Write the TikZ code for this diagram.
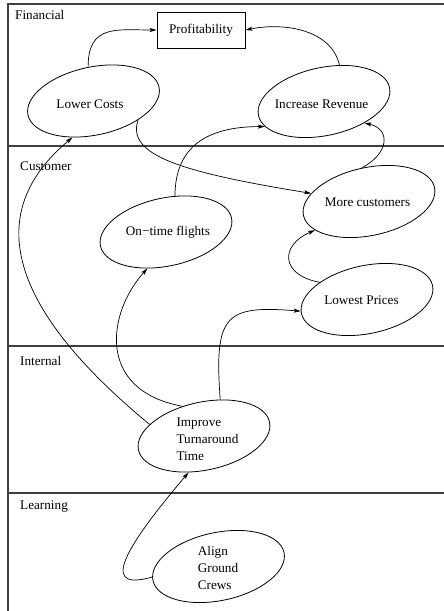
\documentclass[tikz,border=0pt]{standalone}
\usepackage{fontspec}
\setmainfont{Liberation Serif}
\usetikzlibrary{shapes.geometric,arrows.meta}
\begin{document}
\begin{tikzpicture}[x=1pt,y=-1pt,
  lane/.style={draw=black!75, line width=1.1pt},
  goal/.style={ellipse, draw, line width=0.8pt, rotate=12, minimum width=134pt, minimum height=68pt, inner sep=0pt},
  lbl/.style={font=\fontsize{13.2}{17}\selectfont, inner sep=0pt},
  conn/.style={line width=0.7pt, -{Stealth[length=7pt,width=4pt,inset=1.5pt]}},
  boxnode/.style={draw, line width=0.8pt, minimum width=88pt, minimum height=36pt, inner sep=0pt, font=\fontsize{13.2}{17}\selectfont}
]
\useasboundingbox (0,0) rectangle (444,611);
% lanes
\coordinate (tr) at (444,4);
\coordinate (tl) at (8,4);
\coordinate (bl) at (8,611);
\coordinate (c1l) at (8,146);  \coordinate (c1r) at (444,146);
\coordinate (c2l) at (8,346);  \coordinate (c2r) at (444,346);
\coordinate (c3l) at (8,493);  \coordinate (c3r) at (444,493);
\draw[lane] (tr) -- (tl) -- (bl);
\draw[lane] (c1l) -- (c1r);
\draw[lane] (c2l) -- (c2r);
\draw[lane] (c3l) -- (c3r);
\node[lbl, anchor=base west] (fin) at (15,19) {Financial};
\node[lbl, anchor=base west] (cus) at (20,170) {Customer};
\node[lbl, anchor=base west] (int) at (20,365) {Internal};
\node[lbl, anchor=base west] (lea) at (20,509) {Learning};
% nodes
\node[boxnode] (prof) at (201,30) {Profitability};
\node[goal] (lc) at (93.5,101) {};
\node[goal] (ir) at (324,101.5) {};
\node[goal] (mc) at (369,201.5) {};
\node[goal] (ot) at (166,232) {};
\node[goal] (lp) at (367,299.5) {};
\node[goal] (it) at (204,436) {};
\node[goal] (ag) at (218.5,566.5) {};
\node[lbl] (lct) at (90,104) {Lower Costs};
\node[lbl] (irt) at (321.5,104) {Increase Revenue};
\node[lbl] (mct) at (367.5,202) {More customers};
\node[lbl] (ott) at (168,232) {On−time flights};
\node[lbl] (lpt) at (361.5,300) {Lowest Prices};
\node[lbl, align=left] (itt) at (207.5,439) {Improve\\Turnaround\\Time};
\node[lbl, align=left] (agt) at (218,568) {Align\\Ground\\Crews};
% connectors
\draw[conn] (lc.87) .. controls +(0,-43) and +(-40,0) .. (prof.west);
\draw[conn] (ir.55) .. controls +(-8,-35) and +(40,-8) .. (prof.east);
\draw[conn] (ot.64) .. controls +(0,-55) and +(-50,0) .. (ir.191);
\draw[conn] (lc.325) .. controls (126,155) and (180,172) .. (mc.160);
\draw[conn] (mc.90) .. controls +(28,-15) and +(26,6) .. (ir.320);
\draw[conn] (lp.148) .. controls (280,275) and (280,245) .. (mc.196);
\draw[conn] (it.114) .. controls (95,390) and (108,312) .. (ot.231);
\draw[conn] (it.54) .. controls (214,315) and (225,305) .. (lp.178);
\draw[conn] (it.156) .. controls (29,325) and (-30,223) .. (lc.228);
\draw[conn] (ag.177) .. controls (90,595) and (140,530) .. (it.235);
\end{tikzpicture}
\end{document}
